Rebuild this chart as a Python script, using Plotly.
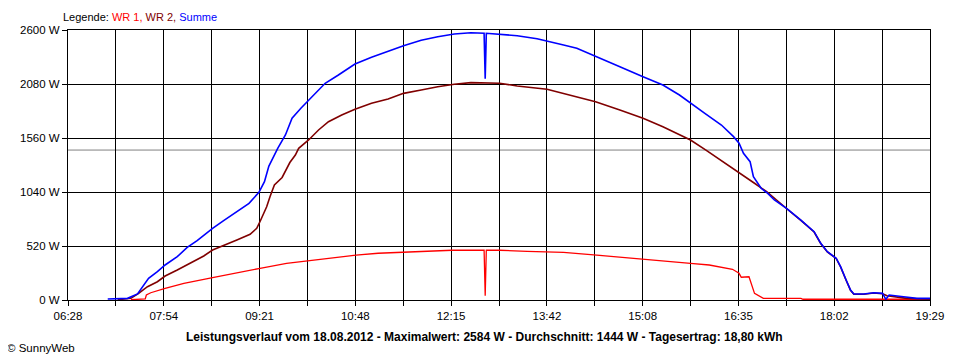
import plotly.graph_objects as go

# ---- data ----
summe_time = ["07:04", "07:22", "07:31", "07:37", "07:41", "07:49", "07:56", "08:07", "08:16", "08:25",
              "08:39", "08:49", "09:01", "09:12", "09:21", "09:26", "09:30", "09:38", "09:45", "09:51",
              "09:59", "10:05", "10:12", "10:21", "10:33", "10:48", "11:03", "11:18", "11:32", "11:48",
              "12:03", "12:18", "12:33", "12:45", "12:46", "12:47", "12:59", "13:15", "13:33", "13:42",
              "13:57", "14:09", "14:26", "14:48", "15:09", "15:27", "15:42", "15:52", "16:05", "16:20",
              "16:31", "16:36", "16:40", "16:46", "16:49", "16:56", "17:02", "17:08", "17:19", "17:32",
              "17:44", "17:50", "17:56", "18:04", "18:08", "18:13", "18:17", "18:20", "18:29", "18:38",
              "18:46", "18:49", "18:52", "19:05", "19:17", "19:29"]
summe_w = [10, 16, 58, 144, 209, 273, 337, 417, 507, 571,
           690, 764, 850, 931, 1037, 1139, 1290, 1461, 1589, 1750,
           1846, 1910, 1990, 2087, 2167, 2273, 2337, 2398, 2449, 2501,
           2535, 2561, 2574, 2568, 2130, 2568, 2561, 2545, 2516, 2491,
           2456, 2424, 2350, 2247, 2150, 2070, 1974, 1894, 1798, 1685,
           1573, 1509, 1413, 1332, 1187, 1076, 1027, 963, 883, 770,
           658, 546, 465, 402, 321, 193, 96, 58, 58, 70,
           64, 7, 48, 32, 16, 16]

wr2_time = ["07:13", "07:25", "07:32", "07:40", "07:49", "07:56", "08:07", "08:19", "08:31", "08:39",
            "08:49", "09:01", "09:13", "09:19", "09:22", "09:26", "09:28", "09:31", "09:35", "09:42",
            "09:49", "09:54", "09:57", "10:06", "10:15", "10:24", "10:36", "10:48", "11:03", "11:18",
            "11:32", "11:48", "12:03", "12:18", "12:33", "12:59", "13:15", "13:42", "13:57", "14:26",
            "14:48", "15:09", "15:27", "15:52", "16:06", "16:21", "16:36", "16:50", "17:01", "17:14",
            "17:19", "17:32", "17:44", "17:50", "17:56", "18:04", "18:08", "18:13", "18:17", "18:20",
            "18:29", "18:38", "18:46", "18:50", "19:08", "19:29"]
wr2_w = [3, 16, 64, 128, 176, 231, 289, 353, 424, 481,
         523, 578, 633, 690, 756, 850, 898, 995, 1107, 1180,
         1324, 1396, 1461, 1541, 1637, 1717, 1781, 1836, 1894, 1936,
         1990, 2022, 2054, 2077, 2093, 2087, 2061, 2029, 1990, 1910,
         1830, 1750, 1669, 1541, 1444, 1332, 1220, 1124, 1043, 931,
         881, 766, 655, 544, 462, 400, 318, 190, 93, 55,
         55, 67, 61, 41, 16, 7]

wr1_time = ["07:25", "07:38", "07:39", "07:43", "07:56", "08:13", "08:39", "09:01", "09:22", "09:46",
            "10:06", "10:30", "10:49", "11:09", "11:32", "11:54", "12:16", "12:45", "12:46", "12:47",
            "12:59", "13:24", "13:42", "13:57", "14:27", "15:03", "15:52", "16:09", "16:30", "16:36",
            "16:38", "16:45", "16:47", "16:50", "16:58", "17:32", "17:34", "19:29"]
wr1_w = [3, 10, 48, 70, 113, 161, 215, 263, 305, 353,
         378, 411, 433, 450, 462, 472, 479, 479, 40, 479,
         479, 469, 462, 459, 433, 402, 353, 337, 296, 257,
         219, 224, 161, 64, 16, 16, 7, 7]

x_tick_labels = ["06:28", "07:54", "09:21", "10:48", "12:15", "13:42", "15:08", "16:35", "18:02", "19:29"]
y_tick_values = [0, 520, 1040, 1560, 2080, 2600]
y_tick_labels = ["0 W", "520 W", "1040 W", "1560 W", "2080 W", "2600 W"]
average_w = 1444
title_text = "Leistungsverlauf vom 18.08.2012 - Maximalwert: 2584 W - Durchschnitt: 1444 W - Tagesertrag: 18,80 kWh"


def to_min(s):
    h, m = s.split(":")
    return int(h) * 60 + int(m)


x_start = to_min(x_tick_labels[0])
x_end = to_min(x_tick_labels[-1])
n_grid = 2 * (len(x_tick_labels) - 1)
step = (x_end - x_start) / n_grid
grid_vals = [x_start + i * step for i in range(n_grid + 1)]
grid_text = [x_tick_labels[i // 2] if i % 2 == 0 else "" for i in range(n_grid + 1)]

FONT = "Liberation Sans, Arial, sans-serif"

fig = go.Figure()
fig.add_trace(go.Scatter(x=[to_min(t) for t in wr1_time], y=wr1_w, mode="lines",
                         line=dict(color="#FF0000", width=1.3), name="WR 1"))
fig.add_trace(go.Scatter(x=[to_min(t) for t in wr2_time], y=wr2_w, mode="lines",
                         line=dict(color="#800000", width=1.6), name="WR 2"))
fig.add_trace(go.Scatter(x=[to_min(t) for t in summe_time], y=summe_w, mode="lines",
                         line=dict(color="#0000FF", width=1.6), name="Summe"))

fig.add_shape(type="line", xref="paper", x0=0, x1=1, yref="y", y0=average_w, y1=average_w,
              line=dict(color="#808080", width=1), layer="below")

# page body has an 8px margin, so the figure is 8px smaller and margins are shifted
fig.update_layout(
    width=952, height=352,
    margin=dict(l=52, r=30, t=22, b=60),
    paper_bgcolor="white", plot_bgcolor="white",
    showlegend=False, hovermode=False,
    font=dict(family=FONT, size=11, color="black"),
    xaxis=dict(range=[x_start, x_end], tickmode="array", tickvals=grid_vals, ticktext=grid_text,
               showgrid=True, gridcolor="black", gridwidth=1, zeroline=False,
               showline=True, linecolor="black", linewidth=1, mirror=True,
               ticks="outside", ticklen=5, tickcolor="black", tickfont=dict(size=11.5)),
    yaxis=dict(range=[0, 2600], tickmode="array", tickvals=y_tick_values, ticktext=y_tick_labels,
               showgrid=True, gridcolor="black", gridwidth=1, zeroline=False,
               showline=True, linecolor="black", linewidth=1, mirror=True,
               ticks="outside", ticklen=5, tickcolor="black", tickfont=dict(size=11.5)),
)

fig.add_annotation(xref="paper", yref="paper", x=-0.008, y=1.048, xanchor="left", yanchor="middle",
                   showarrow=False, font=dict(size=11),
                   text="Legende: <span style='color:#FF0000'>WR 1,</span> "
                        "<span style='color:#800000'>WR 2,</span> "
                        "<span style='color:#0000FF'>Summe</span>")
fig.add_annotation(xref="paper", yref="paper", x=0.483, y=-0.137, xanchor="center", yanchor="middle",
                   showarrow=False, font=dict(size=12), text="<b>" + title_text + "</b>")
fig.add_annotation(xref="paper", yref="paper", x=-0.0736, y=-0.178, xanchor="left", yanchor="middle",
                   showarrow=False, font=dict(size=11.5), text="© SunnyWeb")

fig.write_html("out.html", config={"displayModeBar": False})
